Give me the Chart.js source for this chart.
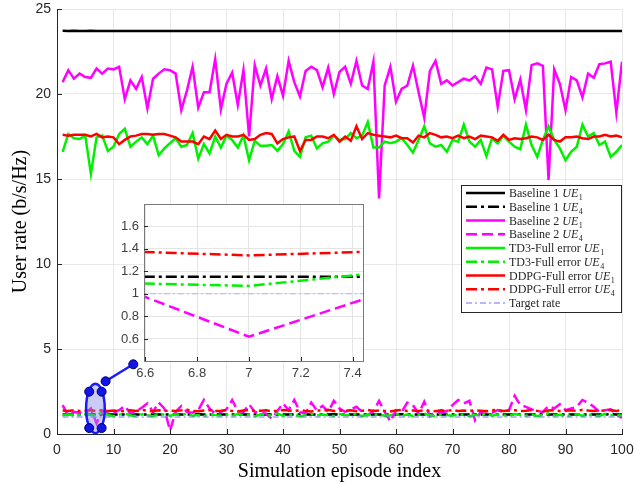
<!DOCTYPE html>
<html>
<head>
<meta charset="utf-8">
<title>User rate</title>
<script src="https://cdn.jsdelivr.net/npm/chart.js@4.4.0/dist/chart.umd.min.js"></script>
<style>
  body { margin: 0; background: #fff; }
  #wrap { position: relative; width: 636px; height: 484px; }
  #mainChart { position: absolute; left: 0; top: 0; }
  #insetChart { position: absolute; left: 104px; top: 196px; }
</style>
</head>
<body>
<div id="wrap">
  <canvas id="mainChart" width="636" height="484"></canvas>
  <canvas id="insetChart" width="266" height="190"></canvas>
</div>
<script>
// episodes and tick labels
const episodes = Array.from({ length: 100 }, (_, i) => i + 1);
const xTicks = [0, 10, 20, 30, 40, 50, 60, 70, 80, 90, 100];
const yTicks = [0, 5, 10, 15, 20, 25];
const insetXTicks = [6.6, 6.8, 7, 7.2, 7.4];
const insetYTicks = [0.6, 0.8, 1, 1.2, 1.4, 1.6];

// series values
const baseline1UE1 = [
  23.72, 23.71, 23.72, 23.70, 23.71, 23.72, 23.71, 23.70, 23.70, 23.71,
  23.70, 23.71, 23.70, 23.70, 23.71, 23.70, 23.70, 23.71, 23.70, 23.70,
  23.71, 23.70, 23.70, 23.71, 23.70, 23.70, 23.70, 23.71, 23.70, 23.70,
  23.70, 23.71, 23.70, 23.70, 23.70, 23.71, 23.70, 23.70, 23.71, 23.70,
  23.70, 23.70, 23.71, 23.70, 23.70, 23.70, 23.71, 23.70, 23.70, 23.70,
  23.71, 23.70, 23.70, 23.70, 23.71, 23.70, 23.70, 23.70, 23.71, 23.70,
  23.70, 23.70, 23.71, 23.70, 23.70, 23.70, 23.70, 23.71, 23.70, 23.70,
  23.70, 23.71, 23.70, 23.70, 23.70, 23.70, 23.71, 23.70, 23.70, 23.70,
  23.70, 23.71, 23.70, 23.70, 23.70, 23.71, 23.70, 23.70, 23.70, 23.70,
  23.71, 23.70, 23.70, 23.70, 23.70, 23.71, 23.70, 23.70, 23.70, 23.70
];
const baseline1UE4 = [
  1.15, 1.15, 1.15, 1.15, 1.15, 1.15, 1.15, 1.15, 1.15, 1.15,
  1.15, 1.15, 1.16, 1.15, 1.15, 1.15, 1.15, 1.15, 1.15, 1.15,
  1.15, 1.15, 1.15, 1.15, 1.16, 1.15, 1.15, 1.15, 1.15, 1.15,
  1.15, 1.15, 1.15, 1.15, 1.15, 1.15, 1.16, 1.15, 1.15, 1.15,
  1.15, 1.15, 1.15, 1.15, 1.15, 1.15, 1.15, 1.15, 1.16, 1.15,
  1.15, 1.15, 1.15, 1.15, 1.15, 1.15, 1.15, 1.15, 1.15, 1.15,
  1.16, 1.15, 1.15, 1.15, 1.15, 1.15, 1.15, 1.15, 1.15, 1.15,
  1.15, 1.15, 1.15, 1.16, 1.15, 1.15, 1.15, 1.15, 1.15, 1.15,
  1.15, 1.15, 1.15, 1.15, 1.15, 1.16, 1.15, 1.15, 1.15, 1.15,
  1.15, 1.15, 1.15, 1.15, 1.15, 1.15, 1.15, 1.16, 1.15, 1.15
];
const baseline2UE1 = [
  20.7, 21.4, 20.9, 21.2, 21.0, 20.95, 21.5, 21.2, 21.5, 21.45,
  21.6, 19.7, 20.8, 20.3, 21.0, 19.15, 20.9, 21.2, 21.45, 21.4,
  21.2, 19.05, 20.2, 21.6, 19.2, 20.1, 20.1, 22.05, 19.1, 20.6,
  21.25, 19.35, 21.4, 17.5, 21.7, 20.5, 21.5, 19.7, 21.05, 19.9,
  21.95, 20.7, 19.85, 21.35, 21.6, 21.4, 20.4, 21.55, 20.0, 21.3,
  21.6, 20.6, 21.95, 20.5, 20.3, 21.9, 13.85, 20.5, 21.6, 19.55,
  20.3, 20.5, 21.67, 20.1, 18.6, 21.36, 21.95, 20.6, 20.8, 20.5,
  20.7, 20.9, 20.8, 21.05, 20.6, 21.55, 21.45, 19.25, 21.36, 21.4,
  19.7, 20.85, 19.05, 21.7, 21.8, 21.65, 14.95, 21.45, 20.6, 19.05,
  21.0, 20.8, 19.8, 21.2, 20.95, 21.75, 21.8, 21.9, 18.9, 21.9
];
const baseline2UE4 = [
  1.7, 1.05, 1.3, 1.25, 1.2, 1.5, 0.62, 1.37, 1.3, 1.25,
  1.4, 1.65, 1.2, 1.3, 1.55, 1.8, 1.3, 1.85, 1.5, 0.2,
  1.3, 1.65, 1.3, 1.25, 1.4, 2.0, 1.5, 1.2, 1.3, 1.45,
  2.0, 1.35, 1.3, 1.75, 1.3, 1.25, 1.2, 0.9, 1.35, 1.8,
  1.4, 2.0, 1.3, 1.2, 1.85, 1.4, 1.65, 1.3, 1.95, 1.5,
  1.3, 1.45, 1.6, 1.3, 1.1, 1.35, 1.95, 1.3, 0.75, 1.4,
  1.3, 1.85, 1.7, 1.2, 1.9, 1.05, 1.3, 1.25, 1.35, 1.7,
  2.0, 1.8, 1.95, 0.8, 1.3, 1.35, 1.25, 1.4, 1.3, 1.4,
  2.25, 1.7, 1.6, 1.45, 1.35, 1.3, 1.65, 1.5, 1.75, 1.4,
  1.5, 1.6, 2.0, 1.85, 1.6, 1.3, 1.4, 1.45, 1.15, 0.95
];
const td3UE1 = [
  16.6, 17.65, 17.4, 17.35, 17.55, 15.3, 17.45, 17.55, 16.65, 16.9,
  17.65, 17.95, 16.9, 17.2, 17.45, 17.05, 17.55, 16.4, 16.8, 17.1,
  17.4, 16.9, 17.0, 17.7, 16.2, 17.05, 16.5, 17.5, 16.85, 17.55,
  17.3, 16.85, 17.55, 16.1, 17.25, 16.95, 16.95, 17.0, 16.65, 17.05,
  17.8, 16.65, 16.3, 17.45, 17.55, 16.8, 17.1, 17.2, 17.55, 17.3,
  17.35, 17.7, 17.4, 17.55, 18.35, 16.85, 16.85, 17.2, 17.1, 17.2,
  17.4, 17.0, 16.55, 17.3, 18.1, 17.1, 16.9, 17.0, 16.6, 17.3,
  17.2, 18.2, 17.2, 16.9, 17.3, 16.35, 17.4, 17.1, 17.55, 17.2,
  16.9, 16.75, 18.2, 17.0, 16.3, 17.3, 18.1, 17.3, 16.8, 16.1,
  16.6, 16.9, 18.2, 17.5, 17.7, 17.0, 17.2, 16.3, 16.6, 17.0
];
const td3UE4 = [
  1.10, 1.15, 1.08, 1.12, 1.18, 1.12, 1.07, 1.30, 1.12, 1.05,
  1.14, 1.20, 1.09, 1.06, 1.16, 1.11, 1.04, 1.19, 1.13, 1.08,
  1.15, 1.10, 1.22, 1.07, 1.12, 1.05, 1.17, 1.11, 1.09, 1.14,
  1.06, 1.18, 1.10, 1.13, 1.04, 1.16, 1.12, 1.08, 1.21, 1.07,
  1.11, 1.15, 1.03, 1.12, 1.19, 1.08, 1.14, 1.10, 1.06, 1.17,
  1.12, 1.09, 1.20, 1.05, 1.13, 1.11, 1.16, 1.07, 1.10, 1.18,
  1.08, 1.14, 1.06, 1.12, 1.19, 1.10, 1.04, 1.15, 1.11, 1.08,
  1.16, 1.12, 1.05, 1.13, 1.09, 1.20, 1.07, 1.14, 1.10, 1.06,
  1.18, 1.11, 1.08, 1.15, 1.05, 1.12, 1.21, 1.09, 1.13, 1.04,
  1.10, 1.16, 1.07, 1.14, 1.11, 1.06, 1.19, 1.12, 1.08, 1.10
];
const ddpgUE1 = [
  17.6, 17.55, 17.6, 17.6, 17.6, 17.5, 17.65, 17.45, 17.5, 17.45,
  17.05, 17.3, 17.5, 17.55, 17.65, 17.65, 17.6, 17.65, 17.65, 17.55,
  17.45, 17.2, 17.2, 17.2, 17.05, 17.5, 17.35, 17.85, 17.35, 17.6,
  17.5, 17.5, 17.6, 17.3, 17.35, 17.6, 17.7, 17.65, 17.1, 17.35,
  17.45, 17.5, 16.65, 17.3, 17.3, 17.5, 17.5, 17.4, 17.6, 17.2,
  17.5, 17.25, 18.1, 17.35, 17.7, 17.6, 17.55, 17.5, 17.45, 17.55,
  17.4, 17.4, 17.15, 17.55, 17.45, 17.7, 17.6, 17.45, 17.5, 17.4,
  17.55, 17.4, 17.5, 17.35, 17.55, 17.5, 17.45, 17.25, 17.6, 17.3,
  17.4, 17.35, 17.4, 17.5, 17.45, 17.3, 17.6, 17.3, 17.2, 17.45,
  17.45, 17.5, 17.4, 17.35, 17.5, 17.5, 17.6, 17.5, 17.55, 17.45
];
const ddpgUE4 = [
  1.38, 1.36, 1.40, 1.35, 1.37, 1.415, 1.34, 1.41, 1.36, 1.38,
  1.33, 1.36, 1.39, 1.35, 1.42, 1.37, 1.34, 1.40, 1.36, 1.38,
  1.35, 1.39, 1.43, 1.36, 1.34, 1.38, 1.41, 1.35, 1.37, 1.40,
  1.36, 1.33, 1.38, 1.42, 1.35, 1.37, 1.39, 1.34, 1.36, 1.41,
  1.38, 1.35, 1.40, 1.36, 1.33, 1.39, 1.37, 1.42, 1.35, 1.38,
  1.36, 1.40, 1.34, 1.37, 1.41, 1.35, 1.38, 1.36, 1.33, 1.39,
  1.42, 1.36, 1.38, 1.35, 1.40, 1.37, 1.34, 1.39, 1.36, 1.41,
  1.35, 1.38, 1.36, 1.40, 1.37, 1.34, 1.39, 1.42, 1.36, 1.38,
  1.40, 1.35, 1.37, 1.41, 1.36, 1.33, 1.38, 1.40, 1.35, 1.37,
  1.39, 1.36, 1.42, 1.38, 1.35, 1.40, 1.37, 1.41, 1.36, 1.39
];
const targetEpisodes = [1, 100];
const targetRate = [1, 1];

// zoom annotation (ellipse centre/radii and handle points, in data units)
const zoomEllipse = { cx: 6.8, cy: 1.5, rx: 1.65, ry: 1.45 };
const handleX = [5.7, 7.9, 5.7, 7.9, 8.6, 13.5];
const handleY = [2.49, 2.49, 0.35, 0.35, 3.1, 4.1];

function points(xs, ys) {
    return ys.map((v, i) => ({ x: xs[i], y: v }));
}

const dashUE4 = [11, 4, 3, 4];

function makeDatasets(targetColor) {
    const list = [
        { label: 'Baseline 1 UE1', data: points(episodes, baseline1UE1), borderColor: '#000000', borderDash: [] },
        { label: 'Baseline 1 UE4', data: points(episodes, baseline1UE4), borderColor: '#000000', borderDash: dashUE4 },
        { label: 'Baseline 2 UE1', data: points(episodes, baseline2UE1), borderColor: '#ff00ff', borderDash: [] },
        { label: 'Baseline 2 UE4', data: points(episodes, baseline2UE4), borderColor: '#ff00ff', borderDash: [11, 5] },
        { label: 'TD3-Full error UE1', data: points(episodes, td3UE1), borderColor: '#00f000', borderDash: [] },
        { label: 'TD3-Full error UE4', data: points(episodes, td3UE4), borderColor: '#00f000', borderDash: dashUE4 },
        { label: 'DDPG-Full error UE1', data: points(episodes, ddpgUE1), borderColor: '#ff0000', borderDash: [] },
        { label: 'DDPG-Full error UE4', data: points(episodes, ddpgUE4), borderColor: '#ff0000', borderDash: dashUE4 },
        { label: 'Target rate', data: points(targetEpisodes, targetRate), borderColor: targetColor, borderDash: [6, 3, 2, 3], borderWidth: 1 }
    ];
    list.forEach((d, i) => {
        d.borderWidth = d.borderWidth || 2.5;
        d.pointRadius = 0;
        d.fill = false;
        d.tension = 0;
        d.order = list.length - i;
    });
    return list;
}

const tickFont = { family: 'Liberation Sans, Arial, sans-serif', size: 14 };
const serif = '"Liberation Serif", "DejaVu Serif", serif';

// inward tick marks
const tickMarks = {
    id: 'tickMarks',
    afterDraw(chart, args, opts) {
        const ctx = chart.ctx, a = chart.chartArea;
        const len = opts.len || 5;
        ctx.save();
        ctx.strokeStyle = '#262626';
        ctx.lineWidth = 1;
        chart.scales.x.ticks.forEach(t => {
            const px = Math.round(chart.scales.x.getPixelForValue(t.value)) + 0.5;
            ctx.beginPath(); ctx.moveTo(px, a.bottom); ctx.lineTo(px, a.bottom - len); ctx.stroke();
        });
        chart.scales.y.ticks.forEach(t => {
            const py = Math.round(chart.scales.y.getPixelForValue(t.value)) + 0.5;
            ctx.beginPath(); ctx.moveTo(a.left, py); ctx.lineTo(a.left + len, py); ctx.stroke();
        });
        ctx.restore();
    }
};

// ellipse + handles marking the zoomed region
const zoomMarker = {
    id: 'zoomMarker',
    afterDatasetsDraw(chart) {
        const ctx = chart.ctx, xs = chart.scales.x, ys = chart.scales.y;
        const cx = xs.getPixelForValue(zoomEllipse.cx);
        const cy = ys.getPixelForValue(zoomEllipse.cy);
        const rx = Math.abs(xs.getPixelForValue(zoomEllipse.cx + zoomEllipse.rx) - cx);
        const ry = Math.abs(ys.getPixelForValue(zoomEllipse.cy + zoomEllipse.ry) - cy);
        ctx.save();
        ctx.beginPath();
        ctx.ellipse(cx, cy, rx, ry, 0, 0, Math.PI * 2);
        ctx.fillStyle = 'rgba(140, 140, 230, 0.45)';
        ctx.fill();
        ctx.strokeStyle = '#1a1aff';
        ctx.lineWidth = 2.5;
        ctx.stroke();
        // connector
        ctx.beginPath();
        ctx.moveTo(xs.getPixelForValue(handleX[4]), ys.getPixelForValue(handleY[4]));
        ctx.lineTo(xs.getPixelForValue(handleX[5]), ys.getPixelForValue(handleY[5]));
        ctx.stroke();
        handleX.forEach((hx, i) => {
            ctx.beginPath();
            ctx.arc(xs.getPixelForValue(hx), ys.getPixelForValue(handleY[i]), 4.5, 0, Math.PI * 2);
            ctx.fillStyle = '#1414e6';
            ctx.fill();
            ctx.strokeStyle = '#000066';
            ctx.lineWidth = 1;
            ctx.stroke();
        });
        ctx.restore();
    }
};

// boxed legend inside the plot
function drawLegendLabel(ctx, text, x, y) {
    const m = text.match(/^(.*?)(UE)(\d)$/);
    ctx.font = '12px ' + serif;
    if (!m) { ctx.fillText(text, x, y); return; }
    ctx.fillText(m[1], x, y);
    x += ctx.measureText(m[1]).width;
    ctx.font = 'italic 12px ' + serif;
    ctx.fillText('UE', x, y);
    x += ctx.measureText('UE').width;
    ctx.font = '8px ' + serif;
    ctx.fillText(m[3], x + 0.5, y + 3);
}

const legendBox = {
    id: 'legendBox',
    afterDraw(chart) {
        const ctx = chart.ctx;
        const left = 461, top = 185, width = 160, height = 127, rowH = 13.75;
        ctx.save();
        ctx.fillStyle = '#ffffff';
        ctx.fillRect(left, top, width, height);
        ctx.strokeStyle = '#262626';
        ctx.lineWidth = 1;
        ctx.strokeRect(left + 0.5, top + 0.5, width, height);
        chart.data.datasets.forEach((d, i) => {
            const y = top + 8 + i * rowH;
            ctx.strokeStyle = d.borderColor;
            ctx.lineWidth = d.borderWidth;
            ctx.setLineDash(d.borderDash);
            ctx.beginPath();
            ctx.moveTo(left + 5, y);
            ctx.lineTo(left + 44, y);
            ctx.stroke();
            ctx.setLineDash([]);
            ctx.fillStyle = '#262626';
            ctx.textBaseline = 'alphabetic';
            drawLegendLabel(ctx, d.label, left + 48, y + 4);
        });
        ctx.restore();
    }
};

// white plot area and grey frame for the inset
const insetFrame = {
    id: 'insetFrame',
    beforeDraw(chart) {
        const a = chart.chartArea, ctx = chart.ctx;
        ctx.save();
        ctx.fillStyle = '#ffffff';
        ctx.fillRect(a.left, a.top, a.right - a.left, a.bottom - a.top);
        ctx.restore();
    },
    afterDraw(chart) {
        const a = chart.chartArea, ctx = chart.ctx;
        ctx.save();
        ctx.strokeStyle = '#7a7a7a';
        ctx.lineWidth = 1;
        ctx.strokeRect(Math.round(a.left) + 0.5, Math.round(a.top) + 0.5, Math.round(a.right - a.left), Math.round(a.bottom - a.top));
        ctx.restore();
    }
};

function fixedTicks(values) {
    return scale => { scale.ticks = values.map(v => ({ value: v })); };
}
function tickText(v) {
    return String(Math.round(v * 10) / 10);
}
// fixed axis band sizes, and no extra room for the end tick labels
function fitX(height) {
    return s => { s.height = height; s.paddingLeft = 0; s.paddingRight = 0; };
}
function fitY(width) {
    return s => { s.width = width; s.paddingTop = 0; s.paddingBottom = 0; };
}

new Chart(document.getElementById('mainChart'), {
    type: 'line',
    data: { datasets: makeDatasets('#6f6fff') },
    options: {
        responsive: false,
        animation: false,
        layout: { padding: { top: 9, right: 14, left: 0, bottom: 0 } },
        plugins: { legend: { display: false }, tooltip: { enabled: false } },
        scales: {
            x: {
                type: 'linear', min: 0, max: 100,
                afterBuildTicks: fixedTicks(xTicks),
                afterFit: fitX(50),
                ticks: { color: '#262626', font: tickFont, padding: 8, maxRotation: 0, callback: tickText },
                grid: { color: '#e8e8e8', drawTicks: false },
                border: { color: '#262626' },
                title: { display: true, text: 'Simulation episode index', color: '#000', font: { family: serif, size: 20 }, padding: { top: 0, bottom: 0 } }
            },
            y: {
                type: 'linear', min: 0, max: 25,
                afterBuildTicks: fixedTicks(yTicks),
                afterFit: fitY(57),
                ticks: { color: '#262626', font: tickFont, padding: 6, callback: tickText },
                grid: { color: '#e8e8e8', drawTicks: false },
                border: { color: '#262626' },
                title: { display: true, text: 'User rate (b/s/Hz)', color: '#000', font: { family: serif, size: 20 }, padding: { top: 9, bottom: 0 } }
            }
        }
    },
    plugins: [tickMarks, zoomMarker, legendBox]
});

new Chart(document.getElementById('insetChart'), {
    type: 'line',
    data: { datasets: makeDatasets('#b0b0ff') },
    options: {
        responsive: false,
        animation: false,
        layout: { padding: { top: 8, right: 7, left: 0, bottom: 0 } },
        plugins: { legend: { display: false }, tooltip: { enabled: false }, tickMarks: { len: 4 } },
        scales: {
            x: {
                type: 'linear', min: 6.595, max: 7.44,
                afterBuildTicks: fixedTicks(insetXTicks),
                afterFit: fitX(25),
                ticks: { color: '#404040', font: { family: tickFont.family, size: 13 }, padding: 5, maxRotation: 0, callback: tickText },
                grid: { color: '#e4e4e4', drawTicks: false },
                border: { display: false }
            },
            y: {
                type: 'linear', min: 0.405, max: 1.795,
                afterBuildTicks: fixedTicks(insetYTicks),
                afterFit: fitY(40),
                ticks: { color: '#404040', font: { family: tickFont.family, size: 13 }, padding: 5, callback: tickText },
                grid: { color: '#e4e4e4', drawTicks: false },
                border: { display: false }
            }
        }
    },
    plugins: [insetFrame, tickMarks]
});
</script>
</body>
</html>
